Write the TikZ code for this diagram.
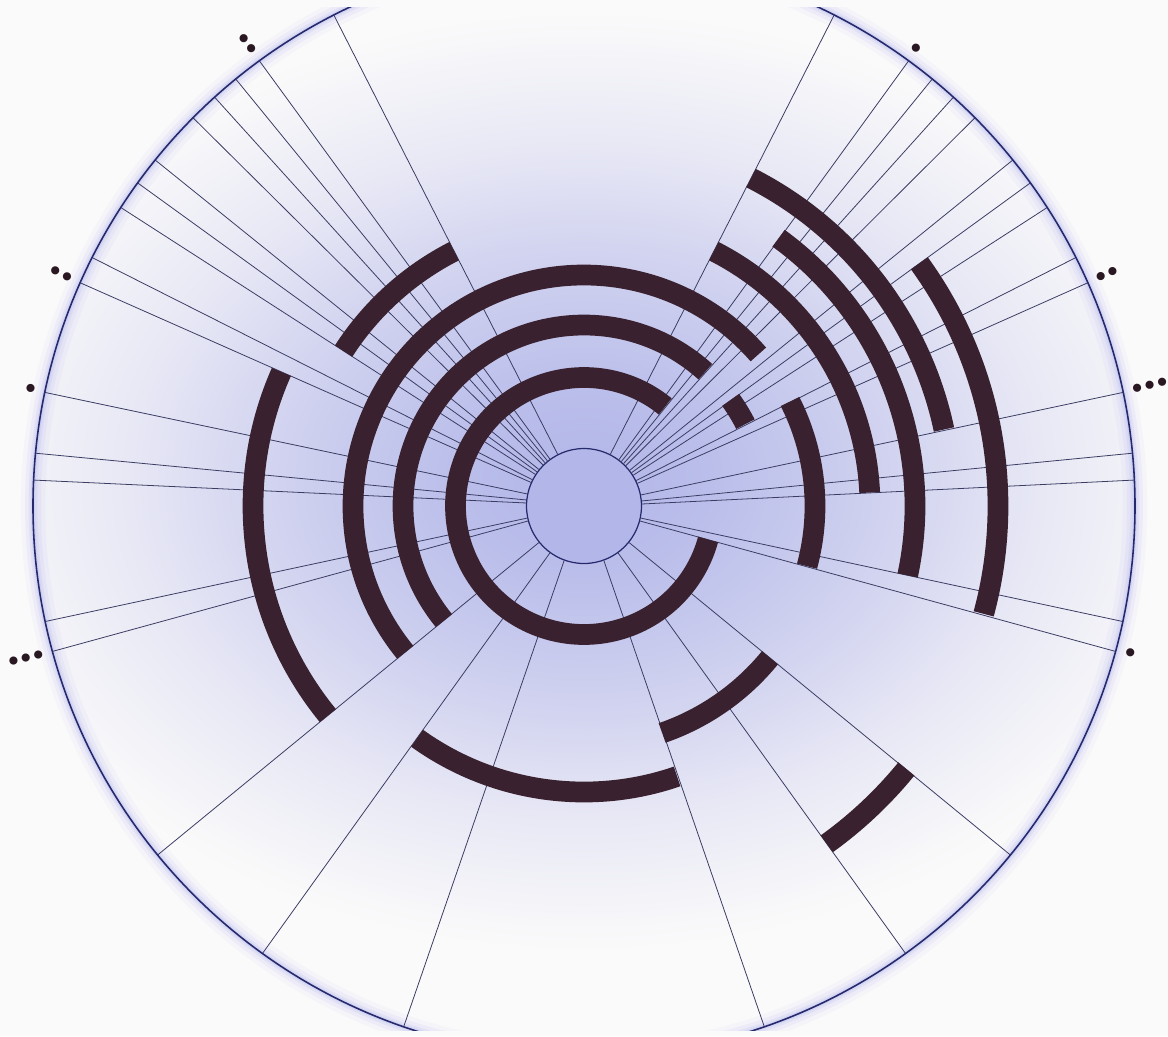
\documentclass[tikz,border=0pt]{standalone}
\usepackage{xcolor}
\definecolor{ringpaper}{RGB}{251,250,250}
\definecolor{ringlavender}{RGB}{178,182,232}
\definecolor{ringmaroon}{RGB}{58,33,48}
\definecolor{ringnavy}{RGB}{38,42,108}
\definecolor{ringspoke}{RGB}{58,60,98}
\definecolor{ringglow}{RGB}{150,155,235}
\usetikzlibrary{positioning,calc}

\pgfdeclareradialshading{ringhaze}{\pgfpoint{0bp}{0bp}}{%
  color(0bp)=(ringlavender);
  color(5bp)=(ringlavender!88!ringpaper);
  color(12bp)=(ringlavender!58!ringpaper);
  color(18bp)=(ringlavender!26!ringpaper);
  color(25bp)=(ringpaper);
  color(50bp)=(ringpaper)}

\begin{document}
\begin{tikzpicture}[x=0.02cm, y=0.02cm,
  spoke/.style={draw=ringspoke, line width=0.45pt},
  band/.style={draw=ringmaroon, line width=11.8pt},
  rim/.style={draw=ringnavy, line width=0.9pt},
  dotlabel/.style={inner sep=0pt, text=ringmaroon!70!black, font=\fontsize{12.5}{14}\selectfont}]

  \useasboundingbox (-584,-530) rectangle (584,506);
  \fill[ringpaper] (-584,-530) rectangle (584,506);
  \clip (-584,-524) rectangle (584,499);

  % Haze inside the rim
  \begin{scope}
    \clip (0,0) circle[radius=551];
    \shade[shading=ringhaze] (0,25) ellipse[x radius=640, y radius=470];
  \end{scope}
  % Glow along the rim
  \foreach \w/\o in {14/0.06, 9/0.09, 5/0.12, 2.5/0.18}
    \draw[ringglow, line width=\w pt, opacity=\o] (0,0) circle[radius=551];

  % Hub
  \node[circle, draw=ringnavy, line width=0.7pt, fill=ringlavender, minimum size=2.3cm, inner sep=0pt] (hub) at (0,0) {};

  % Spokes, mirrored left and right
  \foreach \a [evaluate=\a as \b using 180-\a] in {117,126.1,129.2,132.1,135.2,141.1,144.1,147.2,153.2,156.1,168.1,174.5,177.3,192.1,195.3,219.3,234.3,250.9} {
    \draw[spoke] (hub.\a) -- (\a:551);
    \draw[spoke] (hub.\b) -- (\b:551);
  }

  % Ring 1
  \draw[band] (50.8:128.5) arc[start angle=50.8, end angle=344.9, radius=128.5];
  % Ring 2
  \draw[band] (47.9:181) arc[start angle=47.9, end angle=219.3, radius=181];
  \draw[band] (26.9:181) arc[start angle=26.9, end angle=35.9, radius=181];
  % Ring 3
  \draw[band] (41:231) arc[start angle=41, end angle=219.3, radius=231];
  \draw[band] (-15.1:231) arc[start angle=-15.1, end angle=26.9, radius=231];
  \draw[band] (-71:240) arc[start angle=-71, end angle=-39.2, radius=240];
  % Ring 4
  \draw[band] (117:286) arc[start angle=117, end angle=147.2, radius=286];
  \draw[band] (2.7:286) arc[start angle=2.7, end angle=63, radius=286];
  \draw[band] (234.3:286) arc[start angle=234.3, end angle=289, radius=286];
  % Ring 5
  \draw[band] (156.1:331) arc[start angle=156.1, end angle=219.3, radius=331];
  \draw[band] (-12.1:331) arc[start angle=-12.1, end angle=54, radius=331];
  % Ring 6
  \draw[band] (12:368) arc[start angle=12, end angle=63, radius=368];
  % Ring 7
  \draw[band] (-15.1:414) arc[start angle=-15.1, end angle=35.9, radius=414];
  \draw[band] (-54.3:416) arc[start angle=-54.3, end angle=-39.2, radius=416];

  % Rim
  \draw[rim] (0,0) circle[radius=551];

  % Dot labels, left side read inwards
  \foreach \a/\t/\n in {126.1/$\bullet$\kern1.3pt$\bullet$/l1, 156.1/$\bullet$\kern1.3pt$\bullet$/l2, 168.1/$\bullet$/l3, 195.3/$\bullet$\kern1.3pt$\bullet$\kern1.3pt$\bullet$/l4}
    \node[dotlabel, rotate=\a-180, anchor=east] (\n) at (\a:560) {\t};
  % Dot labels, right side
  \foreach \a/\t/\n in {54/$\bullet$/r1, 23.9/$\bullet$\kern1.3pt$\bullet$/r2, 12/$\bullet$\kern1.3pt$\bullet$\kern1.3pt$\bullet$/r3, -15.1/$\bullet$/r4}
    \node[dotlabel, rotate=\a, anchor=west] (\n) at (\a:560) {\t};
\end{tikzpicture}
\end{document}
